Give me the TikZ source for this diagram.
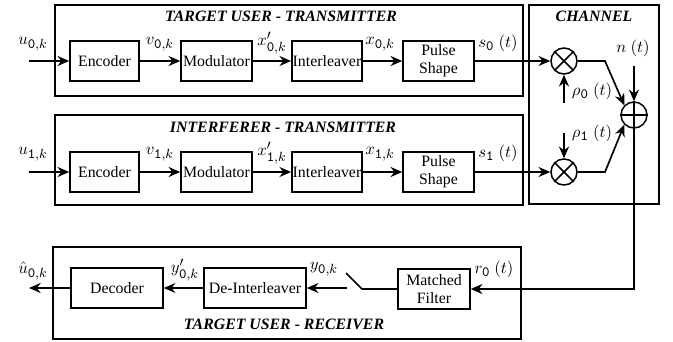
\documentclass[tikz,border=0pt]{standalone}
\usepackage{fontspec}
\setmainfont{Liberation Serif}
\usetikzlibrary{arrows.meta}
% large subscripts for the signal labels
\DeclareMathSizes{10}{10}{8.5}{7}
% signal index and time argument in typewriter digits
\newcommand{\ix}[1]{\mathtt{#1},k}
\newcommand{\tm}{\ \mathtt{(}t\mathtt{)}}
\begin{document}
\begin{tikzpicture}[x=0.6pt,y=-0.6pt,
  font=\fontsize{9.5}{11}\selectfont,
  frame/.style={draw,line width=1.7pt},
  blk/.style={draw,line width=0.9pt,inner sep=0.5pt,minimum height=24pt,align=center},
  mix/.style={draw,circle,line width=0.9pt,minimum size=15.6pt,inner sep=0pt},
  lnk/.style={line width=1pt},
  arr/.style={line width=1pt,-{Stealth[length=7pt,width=6pt]}},
  ttl/.style={font=\fontsize{9.5}{11}\selectfont\bfseries\itshape},
  lbl/.style={inner sep=0pt,font=\fontsize{10}{12}\selectfont}]
\useasboundingbox (0,0) rectangle (673,341);

% enclosing frames
\draw[frame] (55,5) rectangle (523,96);
\draw[frame] (55,115) rectangle (523,205);
\draw[frame] (529,5) rectangle (659,204);
\draw[frame] (53,247) rectangle (521,339);

\node[ttl] (t0) at (281,16) {TARGET USER - TRANSMITTER};
\node[ttl] (t1) at (283,127) {INTERFERER - TRANSMITTER};
\node[ttl] (tc) at (594,16) {CHANNEL};
\node[ttl] (tr) at (284,324) {TARGET USER - RECEIVER};

% target user transmitter chain
\node[blk,minimum width=41.4pt] (enc0) at (104.5,61) {Encoder};
\node[blk,minimum width=42.6pt] (mod0) at (216.5,61) {Modulator};
\node[blk,minimum width=42pt]   (int0) at (327,61) {Interleaver};
\node[blk,minimum width=42.6pt] (ps0)  at (438.5,61) {Pulse\\Shape};
\coordinate (in0) at (29,61);

% interferer transmitter chain
\node[blk,minimum width=41.4pt] (enc1) at (104.5,172) {Encoder};
\node[blk,minimum width=42.6pt] (mod1) at (216.5,172) {Modulator};
\node[blk,minimum width=42pt]   (int1) at (327,172) {Interleaver};
\node[blk,minimum width=42.6pt] (ps1)  at (438.5,172) {Pulse\\Shape};
\coordinate (in1) at (29,172);

% channel
\node[mix] (m0) at (564,61) {};
\node[mix] (m1) at (564,172) {};
\node[mix] (add) at (634,115) {};
\draw[line width=0.9pt] (m0.north east) -- (m0.south west) (m0.north west) -- (m0.south east);
\draw[line width=0.9pt] (m1.north east) -- (m1.south west) (m1.north west) -- (m1.south east);
\draw[line width=0.9pt] (add.north) -- (add.south) (add.west) -- (add.east);
\coordinate (k0) at (605,61);
\coordinate (k1) at (605,172);
\coordinate (nsrc) at (634,66);
\coordinate (p0src) at (564,103);
\coordinate (p1src) at (564,133);
\coordinate (dn) at (634,289);

% receiver
\node[blk,minimum width=43.2pt] (mf)   at (434,289) {Matched\\Filter};
\node[blk,minimum width=61.2pt] (dint) at (255,288) {De-Interleaver};
\node[blk,minimum width=55.2pt] (dec)  at (117,288) {Decoder};
\coordinate (swR) at (362,289);
\coordinate (swT) at (346,273);
\coordinate (swL) at (347,288);
\coordinate (out) at (29,288);

% connectors
\draw[arr,line width=1.3pt] (in0) -- (enc0);
\draw[arr] (enc0) -- (mod0);
\draw[arr] (mod0) -- (int0);
\draw[arr] (int0) -- (ps0);
\draw[arr] (ps0) -- (m0);
\draw[arr,line width=1.3pt] (in1) -- (enc1);
\draw[arr] (enc1) -- (mod1);
\draw[arr] (mod1) -- (int1);
\draw[arr] (int1) -- (ps1);
\draw[arr] (ps1) -- (m1);
\draw[arr] (m0.east) -- (k0) -- (add.north west);
\draw[arr] (m1.east) -- (k1) -- (add.south west);
\draw[arr] (nsrc) -- (add.north);
\draw[arr] (p0src) -- (m0.south);
\draw[arr] (p1src) -- (m1.north);
\draw[arr] (add.south) -- (dn) |- (mf.east);
\draw[lnk] (mf.west) -- (swR) -- (swT);
\draw[arr] (swL) -- (dint.east);
\draw[arr] (dint) -- (dec);
\draw[arr,line width=1.3pt] (dec.west) -- (out);

% signal labels
\node[lbl] (lu0) at (33,44) {$u_{\ix{0}}$};
\node[lbl] (lv0) at (160,44) {$v_{\ix{0}}$};
\node[lbl] (lx0p) at (272,43) {$x'_{\ix{0}}$};
\node[lbl] (lx0) at (380,44) {$x_{\ix{0}}$};
\node[lbl] (ls0) at (498,43) {$s_{\mathtt{0}}\tm$};
\node[lbl] (lu1) at (33,154) {$u_{\ix{1}}$};
\node[lbl] (lv1) at (160,154) {$v_{\ix{1}}$};
\node[lbl] (lx1p) at (272,153) {$x'_{\ix{1}}$};
\node[lbl] (lx1) at (380,154) {$x_{\ix{1}}$};
\node[lbl] (ls1) at (498,153) {$s_{\mathtt{1}}\tm$};
\node[lbl] (ln) at (633,48) {$n\tm$};
\node[lbl] (lp0) at (592,91) {$\rho_{\mathtt{0}}\tm$};
\node[lbl] (lp1) at (592,133) {$\rho_{\mathtt{1}}\tm$};
\node[lbl] (lr0) at (494,269) {$r_{\mathtt{0}}\tm$};
\node[lbl] (ly0) at (324,269) {$y_{\ix{0}}$};
\node[lbl] (ly0p) at (185,270) {$y'_{\ix{0}}$};
\node[lbl] (luh) at (33,271) {$\hat{u}_{\ix{0}}$};
\end{tikzpicture}
\end{document}
